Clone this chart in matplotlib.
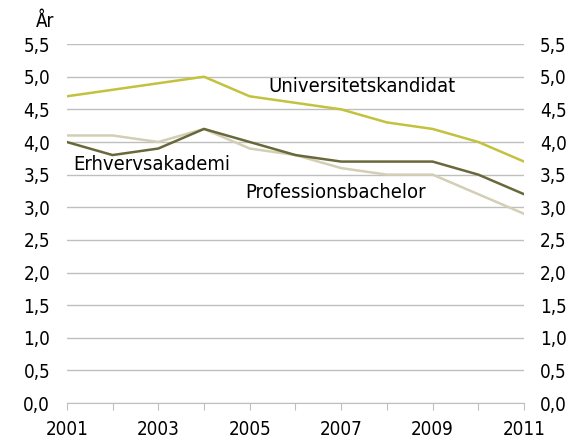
import numpy as np
import matplotlib.pyplot as plt
from matplotlib.ticker import FuncFormatter

plt.rcParams["font.family"] = "DejaVu Sans"
plt.rcParams["font.stretch"] = "condensed"

years = list(range(2001, 2012))
universitetskandidat = [4.7, 4.8, 4.9, 5.0, 4.7, 4.6, 4.5, 4.3, 4.2, 4.0, 3.7]
erhvervsakademi = [4.0, 3.8, 3.9, 4.2, 4.0, 3.8, 3.7, 3.7, 3.7, 3.5, 3.2]
professionsbachelor = [4.1, 4.1, 4.0, 4.2, 3.9, 3.8, 3.6, 3.5, 3.5, 3.2, 2.9]

fig = plt.figure(figsize=(5.81, 4.41), dpi=100)
ax = fig.add_axes([0.115, 0.086, 0.787, 0.814])

ax.plot(years, professionsbachelor, color="#d3ceb4", lw=1.8)
ax.plot(years, erhvervsakademi, color="#68683a", lw=1.8)
ax.plot(years, universitetskandidat, color="#c2c23e", lw=1.8)

ax.set_xlim(2001, 2011)
ax.set_ylim(0, 5.5)
yt = np.arange(0, 5.51, 0.5)
ax.set_yticks(yt)
fmt = FuncFormatter(lambda v, p: f"{v:.1f}".replace(".", ","))
ax.yaxis.set_major_formatter(fmt)
ax.grid(axis="y", color="#bfbfbf", lw=1)
ax.set_axisbelow(True)

# tick every year, label every second year
ax.set_xticks(years)
ax.set_xticklabels([str(y) if (y - 2001) % 2 == 0 else "" for y in years])
for s in ["top", "left", "right"]:
    ax.spines[s].set_visible(False)
ax.spines["bottom"].set_color("#bfbfbf")
ax.tick_params(axis="x", colors="#bfbfbf", length=5, labelcolor="black",
               labelsize=13.5, pad=7)
ax.tick_params(axis="y", length=0, labelsize=13.5, pad=12)

ax2 = ax.twinx()
ax2.set_ylim(0, 5.5)
ax2.set_yticks(yt)
ax2.yaxis.set_major_formatter(fmt)
ax2.tick_params(axis="y", length=0, labelsize=13.5, pad=11.5)
for s in ax2.spines.values():
    s.set_visible(False)

ax.text(2005.4, 4.85, "Universitetskandidat", fontsize=14.5, va="center")
ax.text(2001.15, 3.66, "Erhvervsakademi", fontsize=14.5, va="center")
ax.text(2004.9, 3.22, "Professionsbachelor", fontsize=14.5, va="center")

fig.text(0.078, 0.952, "År", fontsize=13.5, ha="center", va="center")

fig.savefig("out.png", dpi=100)
